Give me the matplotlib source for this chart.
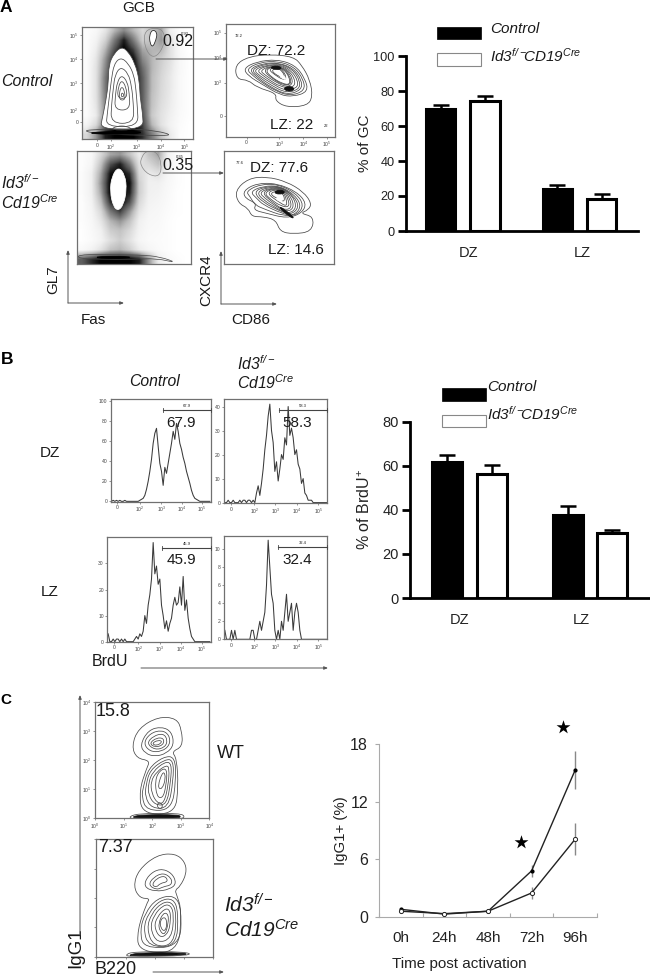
import matplotlib
matplotlib.use('Agg')
import matplotlib.pyplot as plt
import numpy as np
from matplotlib.path import Path
from matplotlib.patches import PathPatch, Rectangle

plt.rcParams['font.family'] = ['Liberation Sans', 'DejaVu Sans']
plt.rcParams['mathtext.fontset'] = 'custom'
plt.rcParams['mathtext.rm'] = 'Liberation Sans'
plt.rcParams['mathtext.it'] = 'Liberation Sans:italic'
plt.rcParams['mathtext.sf'] = 'Liberation Sans:italic'  # mathit keeps digits upright, sf does not
plt.rcParams['mathtext.bf'] = 'Liberation Sans:bold'

W, H = 650, 976

# bar charts
zones = ['DZ', 'LZ']
gc_control = [70, 24.2]
gc_control_err = [1.8, 2.1]
gc_id3 = [74.5, 18.3]
gc_id3_err = [2.5, 3.0]
brdu_control = [61.7, 37.7]
brdu_control_err = [3.1, 4.2]
brdu_id3 = [56.4, 29.7]
brdu_id3_err = [4.0, 1.3]

# time course
hours = ['0h', '24h', '48h', '72h', '96h']
igg_wt = [0.8, 0.3, 0.6, 4.8, 15.3]
igg_wt_err = [0, 0, 0, 0.6, 1.95]
igg_ko = [0.6, 0.35, 0.6, 2.5, 8.1]
igg_ko_err = [0, 0, 0, 0.6, 1.65]

# BrdU histograms, counts per bin
hist_dz_ctrl = [0, 1, 0, 1, 0, 1, 0, 0, 1, 0, 0, 0, 0, 0, 0, 0, 0, 1, 2, 3, 6, 12, 20, 30, 42, 58, 68, 73, 55, 38,
                30, 16, 34, 28, 38, 48, 58, 70, 62, 78, 70, 58, 52, 44, 38, 30, 24, 18, 11, 6, 3, 2, 1, 0, 0, 0, 0, 0, 0, 0]
hist_dz_ko = [0, 0, 1, 0, 0, 1, 0, 0, 0, 1, 0, 1, 1, 0, 1, 1, 0, 1, 0, 4, 7, 3, 8, 14, 22, 28, 36, 41, 30, 25, 13,
              17, 9, 14, 20, 18, 27, 24, 40, 28, 31, 27, 20, 22, 16, 14, 8, 10, 4, 3, 1, 1, 1, 0, 0, 0, 0, 0, 0, 0, 0, 0]
hist_lz_ctrl = [3, 0, 0, 1, 0, 1, 1, 0, 1, 0, 1, 0, 0, 0, 0, 0, 1, 2, 1, 3, 2, 4, 10, 7, 14, 18, 24, 38, 26, 29, 22,
                24, 14, 10, 5, 8, 4, 7, 9, 14, 17, 14, 15, 21, 14, 25, 12, 16, 9, 5, 2, 1, 0, 0, 0, 0, 0, 0, 0, 0, 0, 0]
hist_lz_ko = [1, 0, 0, 0, 1, 0, 1, 0, 0, 0, 0, 0, 0, 0, 0, 0, 1, 1, 0, 0, 1, 2, 1, 2, 3, 6, 11, 8, 5, 4, 1, 0, 1,
              0, 2, 1, 3, 5, 2, 3, 4, 1, 3, 4, 3, 1, 0, 0, 0, 0, 0, 0, 0, 0, 0, 0, 0, 0, 0, 0, 0, 0]

# dot cloud darkness (rows top to bottom)
cloud_ctrl = [
    [.02, .06, .18, .40, .55, .40, .25, .35, .45, .12, .02, .0],
    [.02, .10, .28, .60, .90, .60, .30, .35, .50, .20, .03, .0],
    [.02, .14, .40, .75, 1.0, .80, .45, .40, .40, .20, .05, .0],
    [.03, .18, .50, .90, 1.0, .95, .55, .40, .30, .20, .06, .01],
    [.03, .20, .55, .95, 1.0, 1.0, .65, .40, .28, .18, .06, .01],
    [.03, .20, .60, 1.0, 1.0, 1.0, .70, .38, .26, .16, .05, .01],
    [.03, .20, .60, 1.0, 1.0, 1.0, .70, .38, .25, .16, .05, .01],
    [.03, .20, .58, 1.0, 1.0, 1.0, .70, .36, .24, .15, .05, .01],
    [.03, .18, .55, 1.0, 1.0, 1.0, .70, .35, .22, .14, .05, .01],
    [.03, .15, .55, 1.0, 1.0, 1.0, .75, .32, .20, .12, .04, .01],
    [.10, .25, .65, 1.0, 1.0, 1.0, .80, .40, .20, .10, .03, .0],
    [.25, .50, .90, 1.0, 1.0, 1.0, .85, .60, .35, .15, .02, .0],
]
cloud_ko = [
    [.02, .06, .25, .45, .50, .35, .15, .35, .45, .10, .02, .0],
    [.02, .08, .35, .75, .90, .60, .20, .25, .35, .10, .02, .0],
    [.03, .12, .45, .95, 1.0, .85, .25, .15, .20, .08, .02, .0],
    [.03, .12, .50, 1.0, 1.0, .95, .30, .12, .12, .06, .02, .0],
    [.03, .12, .45, 1.0, 1.0, .90, .30, .12, .10, .05, .01, .0],
    [.02, .10, .35, .85, 1.0, .75, .25, .10, .08, .04, .01, .0],
    [.02, .08, .25, .60, .80, .50, .18, .08, .06, .03, .01, .0],
    [.02, .06, .18, .40, .50, .35, .12, .06, .05, .02, .0, .0],
    [.01, .05, .12, .30, .35, .25, .10, .05, .04, .02, .0, .0],
    [.01, .04, .10, .22, .30, .20, .08, .04, .03, .02, .0, .0],
    [.05, .10, .20, .35, .40, .30, .15, .08, .04, .02, .0, .0],
    [.70, .85, 1.0, 1.0, 1.0, 1.0, .90, .50, .15, .05, .02, .0],
]

# contour outlines, in plot channels
ctrl_main = [
    [(365,140),(342,160),(326,195),(325,250),(318,300),(308,350),(300,388),(430,388),(428,340),(420,290),(418,240),(405,190),(385,155)],
    [(362,172),(342,192),(334,240),(328,290),(322,340),(318,380),(415,380),(412,320),(408,270),(402,225),(385,190)],
    [(362,200),(345,225),(340,265),(335,310),(332,370),(402,370),(400,310),(395,260),(385,220)],
    [(365,225),(352,245),(346,285),(344,330),(390,330),(388,280),(382,245)],
    [(365,240),(355,260),(352,295),(382,295),(378,260)],
    [(366,258),(358,275),(358,300),(376,300),(374,275)],
    [(367,275),(362,290),(373,290)],
    [(350,378),(330,390),(400,390),(380,378)],
    [(245,392),(300,388),(380,386),(470,392),(525,408),(400,405),(300,402)],
]
ctrl_dark = [(270,397),(380,393),(440,397),(380,403),(280,402)]
ctrl_gc = [(458,88),(448,105),(450,130),(458,142),(468,120),(472,98)]
ctrl_gate = [(440,85),(430,120),(445,165),(470,172),(495,130),(490,85)]
ko_blob = [(355,500),(335,530),(330,575),(340,620),(355,632),(370,615),(380,570),(375,525)]
ko_band = [(235,765),(300,763),(420,765),(480,770),(535,790),(470,775),(400,778),(300,778),(235,775)]
ko_dark = [(270,772),(340,768),(410,772),(340,776)]
ko_gate = [(425,470),(420,495),(445,525),(480,530),(485,490),(470,455),(440,452)]

dz_ctrl = [
    [(705,195),(745,170),(810,163),(880,170),(905,195),(930,240),(938,290),(922,317),(860,322),(825,302),(830,280),(770,262),(745,240),(710,238)],
    [(730,205),(770,185),(830,178),(885,195),(915,235),(925,275),(880,290),(840,285),(790,255),(745,228)],
    [(738,207),(780,187),(832,183),(882,200),(910,237),(915,272),(870,288),(825,272),(782,245),(760,228)],
    [(745,208),(790,190),(835,188),(880,205),(905,240),(905,270),(860,285),(810,260),(775,235)],
    [(752,209),(795,192),(838,190),(878,208),(900,242),(898,268),(858,279),(812,255),(778,232)],
    [(760,210),(800,195),(840,193),(875,212),(895,245),(890,265),(855,272),(815,250),(780,228)],
    [(770,211),(805,196),(842,196),(872,216),(888,248),(875,264),(840,260),(805,238),(788,226)],
    [(780,212),(810,198),(845,200),(870,220),(880,250),(860,262),(825,245),(795,225)],
    [(788,211),(818,198),(848,203),(868,225),(875,252),(852,256),(820,238)],
    [(795,210),(825,198),(850,207),(868,230),(870,255),(845,250),(815,232)],
    [(805,208),(830,200),(850,212),(860,235),(850,240),(825,225)],
    [(812,212),(832,203),(848,215),(855,232),(840,232)],
]
dz_ctrl_dark = [[(808,203),(830,196),(848,205),(830,210)], [(850,262),(875,258),(885,270),(860,275)]]
dz_ctrl_hole = [(835,222),(850,225),(860,240),(845,235)]
dz_ko = [
    [(705,572),(745,535),(800,530),(860,545),(910,575),(935,610),(925,630),(900,640),(942,650),(935,695),(880,702),(840,695),(828,660),(790,650),(755,650),(745,625),(715,610)],
    [(730,572),(770,550),(830,550),(890,575),(920,610),(905,640),(860,655),(800,640),(760,630),(770,610),(735,595)],
    [(738,574),(780,553),(835,553),(888,580),(912,615),(892,645),(850,648),(795,628),(765,615),(750,590)],
    [(750,575),(790,558),(840,558),(885,585),(905,620),(880,648),(845,640),(790,615),(770,595)],
    [(760,576),(795,560),(842,560),(882,588),(898,622),(872,645),(838,632),(790,608)],
    [(770,578),(800,562),(845,562),(880,590),(890,625),(865,642),(830,625),(790,600)],
    [(778,578),(808,564),(848,565),(875,592),(882,625),(858,636),(822,615),(795,595)],
    [(785,578),(815,565),(850,568),(870,595),(875,625),(850,630),(815,605)],
    [(792,579),(820,566),(850,571),(865,597),(868,622),(842,618),(812,598)],
    [(800,580),(825,568),(850,575),(860,600),(860,620),(835,605)],
    [(808,582),(830,572),(850,580),(855,605),(840,600)],
]
dz_ko_dark = [[(820,577),(840,568),(858,577),(838,584)], [(835,620),(850,625),(885,655),(870,652)]]
dz_ko_hole = [(828,592),(845,590),(848,605),(832,602)]

igg_wt_rings = [
    [(395,168),(415,115),(475,80),(530,85),(545,120),(548,170),(515,185),(530,205),(535,290),(525,372),(425,372),(418,300),(440,235),(450,212),(410,205)],
    [(420,165),(445,120),(485,110),(515,125),(522,165),(500,190),(465,200),(435,190)],
    [(430,160),(450,130),(485,120),(508,135),(510,165),(485,185),(450,185)],
    [(440,160),(460,138),(490,130),(503,150),(495,172),(465,180)],
    [(448,160),(470,143),(492,145),(490,165),(465,172)],
    [(455,160),(475,150),(488,155),(470,168)],
    [(430,290),(445,235),(490,200),(525,200),(528,270),(515,360),(440,362),(425,320)],
    [(438,285),(450,240),(495,208),(520,210),(520,270),(505,355),(455,355),(435,320)],
    [(445,280),(458,245),(495,215),(515,220),(512,275),(500,345),(465,345),(445,315)],
    [(452,275),(470,245),(500,225),(508,235),(505,285),(492,340),(472,340),(455,310)],
    [(465,270),(480,240),(502,235),(498,290),(488,325),(470,320)],
    [(472,290),(490,240),(498,265),(485,300)],
    [(470,345),(480,335),(490,350),(478,358)],
    [(385,380),(420,370),(540,370),(556,380),(540,388),(400,388)],
]
igg_wt_dark = [(395,380),(430,374),(530,374),(545,380),(530,385),(410,385)]
igg_ko_rings = [
    [(400,590),(415,540),(470,495),(525,490),(555,515),(560,550),(540,590),(525,600),(530,615),(545,660),(535,790),(415,785),(412,720),(440,640),(450,625),(420,625)],
    [(430,590),(445,555),(480,535),(515,548),(530,580),(510,598),(465,605)],
    [(445,585),(460,562),(490,548),(515,565),(515,585),(490,590),(470,600)],
    [(455,585),(470,565),(495,557),(505,575),(480,580),(470,592)],
    [(420,720),(435,670),(470,625),(525,615),(545,660),(540,770),(430,775)],
    [(430,715),(445,670),(480,630),(520,625),(535,665),(530,770),(445,770)],
    [(440,715),(455,670),(485,638),(515,635),(530,670),(522,765),(460,770)],
    [(450,715),(462,675),(490,645),(512,645),(522,675),(515,745),(472,760)],
    [(462,710),(472,680),(495,655),(510,660),(512,690),(505,730),(480,745)],
    [(475,700),(490,668),(505,672),(505,700),(495,735),(480,725)],
    [(480,690),(495,680),(502,700),(495,725),(482,715)],
    [(375,795),(400,785),(560,785),(575,797),(390,800)],
]
igg_ko_dark = [(385,795),(420,788),(550,788),(565,795),(400,798)]

LOG_LABELS = {'0': '0', '1': '$10^{1}$', '2': '$10^{2}$', '3': '$10^{3}$', '4': '$10^{4}$', '5': '$10^{5}$', 'e': '$10^{0}$'}
ID3 = r'$\mathsf{Id3}^{\mathsf{f/-}}$'
CD19 = r'$\mathsf{Cd19}^{\mathsf{Cre}}$'
ID3CD19 = r'$\mathsf{Id3}^{\mathsf{f/-}}\!\!\mathsf{CD19}^{\mathsf{Cre}}$'

fig = plt.figure(figsize=(W / 100, H / 100), dpi=100)


def px_axes(x0, x1, y0, y1):
    # rectangle in picture pixels, y going down
    return fig.add_axes([x0 / W, 1 - y1 / H, (x1 - x0) / W, (y1 - y0) / H])


def flow_panel(x0, x1, y0, y1, ox=0, oy=0, xt=None, yt=None):
    # x0.. are in the 3x channel units
    ax = px_axes(ox + x0 / 3, ox + x1 / 3, oy + y0 / 3, oy + y1 / 3)
    ax.set_xlim(x0, x1)
    ax.set_ylim(y1, y0)
    flow_style(ax, xt, yt)
    return ax


def flow_style(ax, xt, yt):
    for s in ax.spines.values():
        s.set_color('#707070')
        s.set_linewidth(0.9)
    xt = xt or {}
    yt = yt or {}
    ax.set_xticks(list(xt.keys()), [LOG_LABELS[v] for v in xt.values()])
    ax.set_yticks(list(yt.keys()), [LOG_LABELS[v] for v in yt.values()])
    ax.tick_params(labelsize=3.6, length=1.5, width=0.4, pad=1, colors='#444444')


def ring(ax, pts, ec='#484848', fc='none', lw=0.55):
    # closed quadratic spline through the read outline
    pts = np.array(pts, float)
    mids = (pts + np.roll(pts, -1, axis=0)) / 2
    verts = [mids[-1]]
    codes = [Path.MOVETO]
    for p, m in zip(pts, mids):
        verts += [p, m]
        codes += [Path.CURVE3, Path.CURVE3]
    ax.add_patch(PathPatch(Path(verts, codes), ec=ec, fc=fc, lw=lw))


def hist_panel(x0, x1, y0, y1, ox, oy, counts, ymin, ymax, yt, xt):
    ax = px_axes(ox + x0 / 3, ox + x1 / 3, oy + y0 / 3, oy + y1 / 3)
    ax.plot(np.arange(len(counts)) + 0.5, counts, color='#3a3a3a', lw=0.75)
    ax.set_xlim(0, (x1 - x0) / 5)
    ax.set_ylim(ymin, ymax)
    for s in ax.spines.values():
        s.set_color('#707070')
        s.set_linewidth(0.9)
    ax.set_xticks([(k - x0) / 5 for k in xt], [LOG_LABELS[v] for v in xt.values()])
    ax.set_yticks(yt, [str(v) for v in yt])
    ax.tick_params(labelsize=3.6, length=1.5, width=0.4, pad=1, colors='#444444')
    return ax


def bar_chart(rect, ctrl, ctrl_err, ko, ko_err, ymax, yticks, ylabel, xlim, ticks, off, ysize, lsize, lpad):
    ax = px_axes(*rect)
    x = np.arange(len(zones))
    for xs, vals, errs, fc in [(x - off, ctrl, ctrl_err, 'black'), (x + off, ko, ko_err, 'white')]:
        ax.bar(xs, vals, width=0.25, color=fc, edgecolor='black', linewidth=2.2)
        ax.errorbar(xs, vals, yerr=[[0, 0], errs], fmt='none', ecolor='black', elinewidth=1.8,
                    capsize=5.5, capthick=1.8)
    ax.set_xlim(*xlim)
    ax.set_ylim(0, ymax)
    ax.set_yticks(yticks)
    ax.set_xticks(ticks, zones)
    ax.tick_params(axis='x', length=0, labelsize=10.5, pad=11, colors='#222222')
    ax.tick_params(axis='y', length=6, width=2, labelsize=ysize, pad=2, labelcolor='#222222')
    ax.spines['top'].set_visible(False)
    ax.spines['right'].set_visible(False)
    ax.spines['left'].set_linewidth(2)
    ax.spines['bottom'].set_linewidth(2)
    ax.set_ylabel(ylabel, fontsize=lsize, labelpad=lpad, color='#222222')
    return ax


# panel A, GL7 / Fas
ax = flow_panel(245, 578, 80, 418, xt={292: '0', 332: '2', 410: '3', 482: '4', 553: '5'},
                yt={105: '5', 177: '4', 250: '3', 330: '2', 365: '0'})
ax.imshow(cloud_ctrl, cmap='Greys', vmin=0, vmax=1, extent=(245, 578, 418, 80), aspect='auto', interpolation='bilinear')
ring(ax, ctrl_main[0], fc='white')
for r in ctrl_main[1:]:
    ring(ax, r)
ring(ax, ctrl_dark, ec='black', fc='black')
ring(ax, ctrl_gate, ec='#888888', lw=0.5)
ring(ax, ctrl_gc, ec='#222222', fc='white')

ax = flow_panel(232, 574, 452, 793)
ax.imshow(cloud_ko, cmap='Greys', vmin=0, vmax=1, extent=(232, 574, 793, 452), aspect='auto', interpolation='bilinear')
ring(ax, ko_blob, ec='white', fc='white')
ring(ax, ko_band, lw=0.5)
ring(ax, ko_dark, ec='black', fc='black')
ring(ax, ko_gate, ec='#888888', lw=0.5)

# panel A, CXCR4 / CD86
ax = flow_panel(677, 1005, 72, 410, xt={740: '0', 838: '3', 910: '4', 980: '5'},
                yt={98: '5', 172: '4', 248: '3', 348: '0'})
for r in dz_ctrl:
    ring(ax, r)
for r in dz_ctrl_dark:
    ring(ax, r, ec='#111111', fc='#111111')
ring(ax, dz_ctrl_hole, ec='white', fc='white')

ax = flow_panel(673, 1003, 452, 793)
for r in dz_ko:
    ring(ax, r)
for r in dz_ko_dark:
    ring(ax, r, ec='#111111', fc='#111111')
ring(ax, dz_ko_hole, ec='white', fc='white')

# panel B histograms
hx1 = {352: '0', 420: '2', 484: '3', 545: '4', 605: '5'}
hx2 = {694: '0', 763: '2', 826: '3', 890: '4', 955: '5'}
hx3 = {343: '0', 415: '2', 480: '3', 543: '4', 605: '5'}
hist_panel(332, 633, 178, 485, 0, 340, hist_dz_ctrl, -0.33, 102, [0, 20, 40, 60, 80, 100], hx1)
hist_panel(672, 982, 178, 490, 0, 340, hist_dz_ko, -0.3, 43, [0, 10, 20, 30, 40], hx2)
hist_panel(322, 633, 592, 905, 0, 340, hist_lz_ctrl, 0, 40, [0, 10, 20, 30], hx3)
hist_panel(672, 982, 587, 898, 0, 340, hist_lz_ko, 0, 11.5, [0, 2, 4, 6, 8, 10], hx2)

# panel C contours
ax = flow_panel(285, 628, 37, 385, 0, 690, xt={285: 'e', 371: '1', 457: '2', 543: '3', 628: '4'},
                yt={385: 'e', 298: '1', 211: '2', 124: '3', 37: '4'})
for r in igg_wt_rings:
    ring(ax, r)
ring(ax, igg_wt_dark, ec='#111111', fc='#111111')

ax = flow_panel(289, 640, 448, 800, 0, 690)
ax.set_xticks([289, 377, 465, 552, 640], [])
ax.set_yticks([800, 712, 624, 536, 448], [])
ax.tick_params(length=1.5, width=0.4)
for r in igg_ko_rings:
    ring(ax, r)
ring(ax, igg_ko_dark, ec='#111111', fc='#111111')

# bar charts
bar_chart((405.7, 638, 56, 231), gc_control, gc_control_err, gc_id3, gc_id3_err, 100, [0, 20, 40, 60, 80, 100],
          '% of GC', (-0.49, 1.5), [0.05, 1.02], 0.19, 9.2, 11, 1)
bar_chart((410, 650, 421.7, 598), brdu_control, brdu_control_err, brdu_id3, brdu_id3_err, 80, [0, 20, 40, 60, 80],
          '% of BrdU$^{+}$', (-0.493, 1.497), [-0.08, 0.93], 0.185, 10.5, 11.5, 7)

# time course
ax = px_axes(379, 597, 744, 917)
ax.errorbar(range(5), igg_wt, yerr=igg_wt_err, color='#222222', lw=1, ecolor='#888888', elinewidth=1,
            marker='o', ms=2, mfc='black', mec='black')
ax.errorbar(range(5), igg_ko, yerr=igg_ko_err, color='#222222', lw=1, ecolor='#888888', elinewidth=1,
            marker='o', ms=3, mfc='white', mec='#222222', mew=0.7)
ax.scatter([2.75, 3.72], [7.8, 19.8], marker='*', s=110, color='black', clip_on=False, linewidths=0)
ax.set_xlim(-0.5, 4.5)
ax.set_ylim(0, 18)
ax.set_yticks([0, 6, 12, 18])
ax.set_xticks(np.arange(-0.5, 5, 1), [])
ax.set_xticks(range(5), hours, minor=True)
ax.tick_params(axis='x', which='major', direction='in', length=3, color='#aaaaaa')
ax.tick_params(axis='x', which='minor', length=0, labelsize=11, pad=10, labelcolor='#222222')
ax.tick_params(axis='y', length=3, color='#aaaaaa', labelsize=11.5, pad=5, labelcolor='#222222')
ax.spines['top'].set_visible(False)
ax.spines['right'].set_visible(False)
ax.spines['left'].set_color('#aaaaaa')
ax.spines['bottom'].set_color('#aaaaaa')
ax.set_ylabel('IgG1+ (%)', fontsize=10.8, color='#222222')
ax.yaxis.set_label_coords(-0.14, 0.5)
ax.set_xlabel('Time post activation', fontsize=11, color='#222222')
ax.xaxis.set_label_coords(0.37, -0.23)

# overlay in picture pixels for annotation and hand drawn bits
ov = fig.add_axes([0, 0, 1, 1], facecolor='none')
ov.set_xlim(0, W)
ov.set_ylim(H, 0)
ov.axis('off')


def t(x, y, s, size=11, ha='center', **kw):
    ov.text(x, y, s, fontsize=size, ha=ha, va='center', color=kw.pop('color', '#1a1a1a'), **kw)


def arrow(x0, y0, x1, y1):
    ov.annotate('', xy=(x1, y1), xytext=(x0, y0),
                arrowprops=dict(arrowstyle='-|>,head_length=0.22,head_width=0.09', color='#555555', lw=0.7,
                                shrinkA=0, shrinkB=0))


t(6, 8, 'A', 12.5, fontweight='bold', color='black')
t(7, 360, 'B', 12.5, fontweight='bold', color='black')
t(6, 700, 'C', 11, fontweight='bold', color='black')

t(139, 8, 'GCB')
t(1, 81, 'Control', 11.4, ha='left', style='italic')
t(1, 183, ID3, 11.4, ha='left')
t(1, 203, CD19, 11.4, ha='left')
t(178, 42, '0.92', 11.5)
t(185, 34, '0.92', 3)
t(178, 165, '0.35', 11.5)
t(180, 157, '0.35', 3)
t(276, 51, 'DZ: 72.2')
t(292, 125, 'LZ: 22')
t(239, 36, '72.2', 3)
t(326, 126, '22', 3)
t(279, 168, 'DZ: 77.6')
t(296, 250, 'LZ: 14.6')
t(240, 163, '77.6', 3)
t(53, 280, 'GL7', rotation=90)
t(93, 320, 'Fas')
t(206, 280, 'CXCR4', rotation=90)
t(251, 320, 'CD86')
arrow(156, 59, 228, 59)
arrow(163, 173, 224, 173)
arrow(68, 303, 68, 250)
arrow(68, 303, 124, 303)
arrow(221, 304, 221, 251)
arrow(221, 304, 277, 304)

# legends
ov.add_patch(Rectangle((437, 27), 44, 12, fc='black', ec='black', lw=0.5))
ov.add_patch(Rectangle((437, 53), 44, 13, fc='white', ec='#888888', lw=0.8))
t(490, 29, 'Control', 11, ha='left', style='italic')
t(490, 56, ID3CD19, 11, ha='left')
ov.add_patch(Rectangle((442, 388), 44, 13, fc='black', ec='black', lw=0.5))
ov.add_patch(Rectangle((442, 415), 44, 12, fc='white', ec='#888888', lw=0.8))
t(487, 387, 'Control', 11, ha='left', style='italic')
t(487, 414, ID3CD19, 11, ha='left')

# panel B text
t(154, 381, 'Control', 11.3, ha='center', style='italic')
t(237, 364, ID3, 11.3, ha='left')
t(237, 383, CD19, 11.3, ha='left')
t(50, 453, 'DZ')
t(50, 592, 'LZ')
t(181, 423, '67.9', 11)
t(297, 423, '58.3', 11)
t(181, 560, '45.9', 11)
t(297, 560, '32.4', 11)
t(110, 662, 'BrdU', 11.5)
arrow(141, 668, 328, 668)
for x0, x1, y, s, tx in [(163, 211, 410, '67.9', 187), (279, 327, 410, '58.3', 303),
                         (162, 211, 548, '45.9', 187), (278, 327, 547, '32.4', 303)]:
    ov.plot([x0, x1], [y, y], color='#444444', lw=0.8)
    ov.plot([x0, x0], [y - 2, y + 2], color='#444444', lw=0.6)
    ov.plot([x1, x1], [y - 2, y + 2], color='#444444', lw=0.6)
    t(tx, y - 4, s, 3)

# panel C text
t(113, 711, '15.8', 13)
t(115, 848, '7.37', 13)
t(231, 754, 'WT', 13)
t(224, 905, ID3, 15, ha='left')
t(224, 930, CD19, 15, ha='left')
t(76, 948, 'IgG1', 13.5, rotation=90)
t(116, 969, 'B220', 13)
arrow(80, 935, 80, 695)
arrow(153, 972, 224, 972)

fig.savefig('out.png', dpi=100)
